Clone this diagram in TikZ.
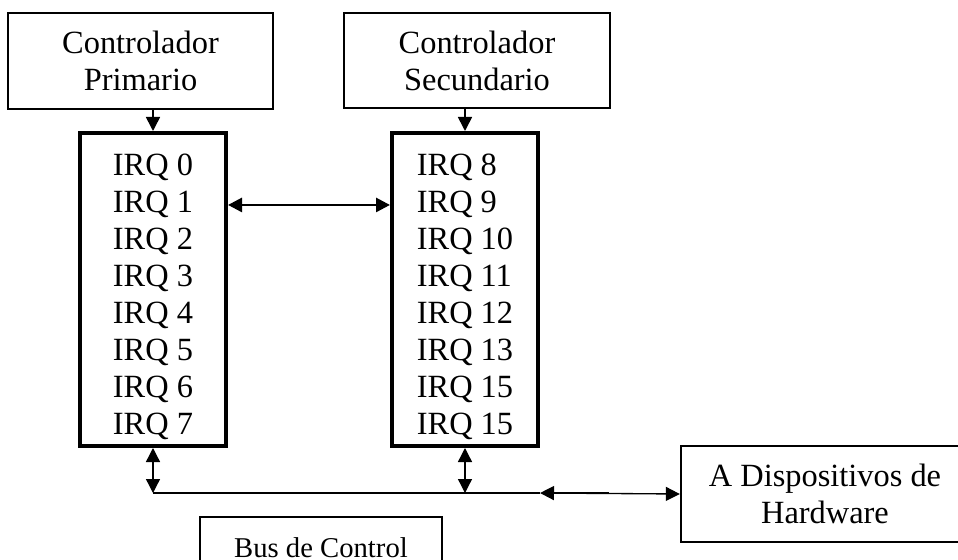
\documentclass[tikz,border=0pt]{standalone}
\usepackage{fontspec}
\setmainfont{Liberation Serif}
\usetikzlibrary{arrows.meta,positioning}

\begin{document}
\begin{tikzpicture}[x=0.75pt, y=-0.75pt, >={Triangle[length=10.5pt,width=10.5pt]},
		every node/.style={font=\fontsize{24.3}{27.7}\selectfont},
		ctrl/.style={draw, line width=1.5pt, align=center, minimum width=199pt, minimum height=71.5pt},
		irq/.style={draw, line width=3pt, align=left, text height=221pt, minimum width=109.5pt, minimum height=234.75pt},
		bus/.style={line width=1pt}]
		\useasboundingbox (0,0) rectangle (958,560);
		\node[ctrl](ctrlA) at (140.5,61) {Controlador\\Primario};
		\node[ctrl](ctrlB) at (477,60.5) {Controlador\\Secundario};
		\node[irq](irqA) at (153,289.5) {IRQ 0\\IRQ 1\\IRQ 2\\IRQ 3\\IRQ 4\\IRQ 5\\IRQ 6\\IRQ 7};
		\node[irq](irqB) at (465,289.5) {IRQ 8\\IRQ 9\\IRQ 10\\IRQ 11\\IRQ 12\\IRQ 13\\IRQ 15\\IRQ 15};
		\node[draw, line width=1.8pt, align=center, minimum width=216pt, minimum height=72pt](hw) at (825,494) {A Dispositivos de\\Hardware};
		\node[draw, line width=1.5pt, minimum width=181.5pt, minimum height=46.5pt,
			font=\fontsize{21.5}{25}\selectfont](busctrl) at (321,548) {Bus de Control};
		\coordinate (busL) at (153,493);
		\coordinate (busR) at (540,493);
		% controladores a las IRQ
		\draw[->, line width=1.2pt] (irqA.north |- ctrlA.south) -- (irqA.north);
		\draw[->, line width=1.2pt] (irqB.north |- ctrlB.south) -- (irqB.north);
		\draw[<->, line width=2pt] ([yshift=63.4pt]irqA.east) -- ([yshift=63.4pt]irqB.west);
		% bus
		\draw[bus] (busL) -- (busR);
		\draw[<->, bus] (irqA.south) -- (irqA.south |- busL);
		\draw[<->, bus] (irqB.south) -- (irqB.south |- busL);
		\draw[<->, bus] (busR) -- (hw.west);
		\draw[line width=2pt] ([xshift=5pt]busR) -- ([xshift=52pt]busR);
	\end{tikzpicture}
\end{document}
